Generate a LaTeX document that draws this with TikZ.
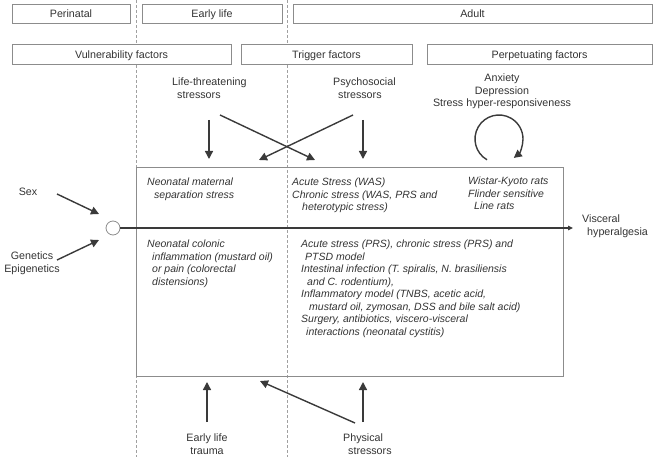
\documentclass[tikz,border=0pt]{standalone}
\usepackage{fontspec}
\setmainfont{Liberation Sans}
\usetikzlibrary{arrows.meta}
\definecolor{ink}{HTML}{333333}
\definecolor{framec}{HTML}{8C8C8C}
\definecolor{dashc}{HTML}{A0A0A0}
\definecolor{arrc}{HTML}{3A3A3A}
\begin{document}
\begin{tikzpicture}[x=1pt,y=1pt,
  every node/.style={font=\fontsize{10.7}{12.5}\selectfont, text=ink, inner sep=0pt},
  hdr/.style={draw=framec, line width=0.8pt, fill=white, minimum height=19.5pt, text height=7.6pt, text depth=0pt},
  dashline/.style={draw=dashc, line width=0.7pt, dash pattern=on 3pt off 2pt},
  arr/.style={draw=arrc, line width=1.4pt, -{Triangle[length=8pt,width=8pt]}},
  axisline/.style={draw=arrc, line width=1.2pt, -{Triangle[length=5pt,width=4.5pt]}},
  lblock/.style={align=left, anchor=north west},
  cblock/.style={align=center, anchor=north},
  itext/.style={font=\fontsize{10.5}{12.5}\selectfont\itshape}
]
\useasboundingbox (0,0) rectangle (660,-457);

% dashed period separators
\coordinate (d1t) at (136,0);
\coordinate (d1b) at (136,-457);
\coordinate (d2t) at (287,0);
\coordinate (d2b) at (287,-457);
\draw[dashline] (d1t) -- (d1b);
\draw[dashline] (d2t) -- (d2b);

% header boxes
\node[hdr, minimum width=118pt] (peri) at (71,-13.7) {Perinatal};
\node[hdr, minimum width=140pt] (early) at (212,-13.7) {Early life};
\node[hdr, minimum width=359pt] (adult) at (472.5,-13.7) {Adult};
\node[hdr, minimum width=219pt] (vuln) at (121.5,-54.5) {Vulnerability factors};
\node[hdr, minimum width=171pt] (trig) at (326.5,-54.5) {Trigger factors};
\node[hdr, minimum width=225pt] (perp) at (539.5,-54.5) {Perpetuating factors};

% main box
\node[draw=framec, line width=0.9pt, minimum width=427pt, minimum height=209pt] (mainbox) at (349.5,-271.5) {};

% stressor labels
\node[lblock] (lts) at (172,-78) {Life-threatening\\\hspace*{5pt}stressors};
\node[lblock] (pss) at (333,-78) {Psychosocial\\\hspace*{5pt}stressors};
\node[cblock] (anx) at (502,-74) {Anxiety\\Depression\\Stress hyper-responsiveness};
\node (sex) at (28,-192) {Sex};
\node[cblock] (gen) at (32,-252) {Genetics\\Epigenetics};
\node[lblock] (vh) at (582,-215) {Visceral\\\hspace*{5pt}hyperalgesia};
\node[cblock] (elt) at (207,-434) {Early life\\trauma};
\node[lblock] (phys) at (343,-434) {Physical\\\hspace*{5pt}stressors};

% box contents
\node[lblock, itext] (nms) at (147,-178) {Neonatal maternal\\\hspace*{7pt}separation stress};
\node[lblock, itext] (acw) at (292,-178) {Acute Stress (WAS)\\Chronic stress (WAS, PRS and\\\hspace*{10pt}heterotypic stress)};
\node[lblock, itext] (wky) at (468,-177) {Wistar-Kyoto rats\\Flinder sensitive\\\hspace*{6pt}Line rats};
\node[lblock, itext] (ncol) at (147,-240) {Neonatal colonic\\\hspace*{5pt}inflammation (mustard oil)\\\hspace*{5pt}or pain (colorectal\\\hspace*{5pt}distensions)};
\node[lblock, itext] (acp) at (301,-240) {Acute stress (PRS), chronic stress (PRS) and\\\hspace*{4pt}PTSD model\\Intestinal infection (T. spiralis, N. brasiliensis\\\hspace*{6pt}and C. rodentium),\\Inflammatory model (TNBS, acetic acid,\\\hspace*{8pt}mustard oil, zymosan, DSS and bile salt acid)\\Surgery, antibiotics, viscero-visceral\\\hspace*{5pt}interactions (neonatal cystitis)};

% circle and axis
\node[circle, draw=framec, line width=0.8pt, fill=white, minimum size=14pt] (circ) at (113,-228) {};
\coordinate (vhend) at (573,-228);
\draw[axisline] (circ.east) -- (vhend);

% arrow end points
\coordinate (sexa) at (57,-194);   \coordinate (sexb) at (99,-214);
\coordinate (gena) at (57,-260);   \coordinate (genb) at (99,-240);
\coordinate (ltda) at (209,-120);  \coordinate (ltdb) at (209,-159);
\coordinate (ltxa) at (220,-115);  \coordinate (ltxb) at (315,-160);
\coordinate (psda) at (363,-120);  \coordinate (psdb) at (363,-159);
\coordinate (psxa) at (353,-115);  \coordinate (psxb) at (259,-160);
\coordinate (elta) at (207,-422);  \coordinate (eltb) at (207,-382);
\coordinate (phua) at (363,-422);  \coordinate (phub) at (363,-382);
\coordinate (phxa) at (355,-423);  \coordinate (phxb) at (260,-381);
\coordinate (loopc) at (499,-139);

\draw[arr] (sexa) -- (sexb);
\draw[arr] (gena) -- (genb);
\draw[arr] (ltda) -- (ltdb);
\draw[arr] (ltxa) -- (ltxb);
\draw[arr] (psda) -- (psdb);
\draw[arr] (psxa) -- (psxb);
\draw[arr] (elta) -- (eltb);
\draw[arr] (phua) -- (phub);
\draw[arr] (phxa) -- (phxb);
\draw[arr] (loopc) ++(240:24pt) arc[start angle=240, end angle=-52, radius=24pt];
\end{tikzpicture}
\end{document}
